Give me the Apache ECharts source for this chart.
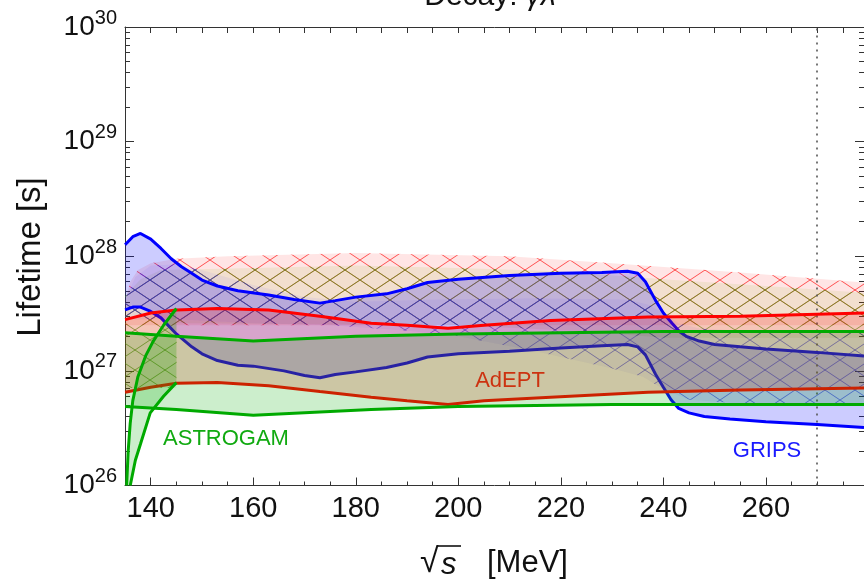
<!DOCTYPE html>
<html>
<head>
<meta charset="utf-8">
<script src="https://cdn.jsdelivr.net/npm/echarts@6/dist/echarts.min.js"></script>
<style>
  html, body { margin: 0; padding: 0; background: #fff; }
  #chart { width: 864px; height: 581px; }
</style>
</head>
<body>
<div id="chart"></div>
<script>
// x: sqrt(s) in MeV, y: lifetime in s (log axis)
const xMajorTicks = [140, 160, 180, 200, 220, 240, 260];
const xMinorTicks = [140, 145, 150, 155, 160, 165, 170, 175, 180, 185, 190, 195, 200, 205,
  210, 215, 220, 225, 230, 235, 240, 245, 250, 255, 260, 265, 270, 275];
const thresholdE = 270;

// GRIPS solid band
const gripsUpper = [[135,1.26e28],[136.5,1.48e28],[138,1.58e28],[140,1.41e28],[142,1.17e28],[144,9.5e27],
  [146,8.1e27],[148,7.1e27],[150,6.2e27],[153,5.5e27],[157,5.0e27],[163,4.6e27],[168,4.2e27],[173,3.9e27],
  [176,4.1e27],[180,4.4e27],[186,4.7e27],[190,5.2e27],[194,5.9e27],[200,6.3e27],[210,6.8e27],[220,7.1e27],
  [228,7.2e27],[233,7.4e27],[235,7.1e27],[236.5,6.0e27],[238.5,4.1e27],[240,3.2e27],[241.7,2.6e27],
  [243,2.24e27],[244.5,2.0e27],[247,1.82e27],[250,1.7e27],[255,1.62e27],[260,1.55e27],[270,1.45e27],[279.14,1.35e27]];
const gripsLower = [[135,3.4e27],[136.5,3.6e27],[138,3.6e27],[140,3.3e27],[142,2.9e27],[145,2.1e27],
  [148,1.62e27],[150,1.41e27],[153,1.23e27],[157,1.12e27],[160,1.10e27],[166,1.0e27],[170,9.1e26],
  [173,8.7e26],[176,9.3e26],[180,9.8e26],[186,1.07e27],[190,1.17e27],[194,1.32e27],[200,1.41e27],
  [210,1.48e27],[220,1.58e27],[228,1.66e27],[233,1.70e27],[235,1.62e27],[236.5,1.38e27],[238.5,9.3e26],
  [240,7.2e26],[241.5,5.6e26],[243,4.7e26],[245,4.3e26],[248,4.0e26],[253,3.8e26],[260,3.6e26],
  [270,3.4e26],[279.14,3.2e26]];

// AdEPT solid band
const adeptUpper = [[135,2.8e27],[140,3.2e27],[145,3.4e27],[153,3.5e27],[163,3.4e27],[173,3.0e27],
  [183,2.6e27],[190,2.5e27],[198,2.35e27],[205,2.5e27],[218,2.75e27],[237,2.95e27],[255,3.0e27],[279.14,3.2e27]];
const adeptLower = [[135,6.5e26],[140,7.2e26],[145,7.8e26],[153,7.9e26],[163,7.4e26],[173,6.6e26],
  [183,5.9e26],[190,5.5e26],[198,5.1e26],[205,5.5e26],[218,5.9e26],[237,6.5e26],[255,6.8e26],[279.14,7.1e26]];

// ASTROGAM solid band + threshold curves
const astroUpper = [[135,2.15e27],[145,2.0e27],[160,1.82e27],[180,2.0e27],[200,2.1e27],[240,2.2e27],[279.14,2.2e27]];
const astroLower = [[135,4.9e26],[145,4.6e26],[160,4.1e26],[183,4.6e26],[200,4.9e26],[230,5.1e26],[279.14,5.1e26]];
const astroRiseHigh = [[135.3,1.0e26],[135.6,2.0e26],[136,3.5e26],[136.5,5.5e26],[137.5,8.9e26],
  [139,1.35e27],[140.5,1.82e27],[142.5,2.5e27],[145,3.5e27]];
const astroRiseLow = [[136,1.0e26],[137,1.66e26],[138,2.3e26],[139.9,4.3e26],[142.5,6.0e26],[145,7.9e26]];

// hatched bands
const adeptHatchTop = [[135,4.0e27],[136,6.0e27],[137.5,7.6e27],[140,8.7e27],[145,9.5e27],[155,1.0e28],
  [180,1.07e28],[210,1.0e28],[230,8.7e27],[255,7.2e27],[279.14,5.9e27]];
const adeptHatchBottom = [[135,2.5e27],[279.14,2.5e27]];
const astroHatchTop = [[135,4.5e27],[138,6.3e27],[142,7.6e27],[160,7.9e27],[180,8.3e27],[200,7.9e27],
  [220,7.4e27],[240,6.3e27],[260,5.5e27],[279.14,4.8e27]];
const astroHatchBottom = [[135,7.1e26],[145,7.1e26],[145.1,2.6e27],[200,2.5e27],[225,2.2e27],
  [240,1.95e27],[279.14,1.95e27]];
const gripsHatchTop = [[135,4.2e27],[137,6.6e27],[140,8.3e27],[145,8.5e27],[150,7.6e27],[160,5.6e27],
  [170,4.4e27],[180,4.0e27],[195,4.2e27],[215,4.3e27],[233,4.2e27],[237,3.8e27],[240,3.2e27],
  [243,2.6e27],[247,2.34e27],[255,2.24e27],[279.14,2.14e27]];
const gripsHatchBottom = [[135,2.8e27],[145,2.8e27],[160,2.6e27],[175,2.5e27],[190,2.24e27],[200,2.0e27],
  [215,1.48e27],[230,1.05e27],[236,8.9e26],[240,6.9e26],[245,5.6e26],[255,5.2e26],[279.14,5.1e26]];

const X_MIN = 134.98, X_MAX = 279.14;
const FONT = '"Liberation Sans", Arial, sans-serif';

// minor log ticks (2..9 x 10^n), in exponent units for the overlay axes
const yMinorExp = [];
for (let n = 26; n < 30; n++) {
  for (let k = 2; k <= 9; k++) yMinorExp.push(n + Math.log10(k));
}

// cross hatch tile, same origin for all bands so the crosses line up
function hatch(color) {
  const c = document.createElement('canvas');
  c.width = 30; c.height = 20;
  const g = c.getContext('2d');
  g.strokeStyle = color;
  g.lineWidth = 1;
  g.beginPath();
  for (let k = -1; k <= 1; k++) {
    g.moveTo(k * 30, 0); g.lineTo(k * 30 + 30, 20);
    g.moveTo(k * 30, 20); g.lineTo(k * 30 + 30, 0);
  }
  g.stroke();
  return { image: c, repeat: 'repeat' };
}

function band(name, upper, lower, fill, hatchColor, z) {
  const pattern = hatchColor ? hatch(hatchColor) : null;
  return {
    type: 'custom', name: name, z: z, clip: true, silent: true,
    xAxisIndex: 0, yAxisIndex: 0,
    data: [upper[0]],
    encode: { x: 0, y: 1 },
    renderItem: function (params, api) {
      const pts = upper.map(p => api.coord(p))
        .concat(lower.slice().reverse().map(p => api.coord(p)));
      const children = [{ type: 'polygon', shape: { points: pts }, style: { fill: fill } }];
      if (pattern) children.push({ type: 'polygon', shape: { points: pts }, style: { fill: pattern } });
      return { type: 'group', children: children };
    }
  };
}

function curve(name, data, color, z) {
  return {
    type: 'line', name: name, data: data, z: z, silent: true,
    xAxisIndex: 0, yAxisIndex: 0,
    showSymbol: false, symbol: 'none',
    lineStyle: { color: color, width: 3 }
  };
}

const axisLineStyle = { color: '#333', width: 1 };

const chart = echarts.init(document.getElementById('chart'));

const option = {
  animation: false,
  grid: { left: 125, top: 27, width: 741, height: 458.5 },
  xAxis: [
    {
      type: 'value', min: X_MIN, max: X_MAX, position: 'bottom',
      axisLine: { lineStyle: axisLineStyle },
      axisTick: { inside: true, length: 8, customValues: xMajorTicks, lineStyle: axisLineStyle },
      axisLabel: { customValues: xMajorTicks, fontSize: 29, fontFamily: FONT, color: '#111', margin: 9 },
      splitLine: { show: false }
    },
    {
      type: 'value', min: X_MIN, max: X_MAX, position: 'bottom',
      axisLine: { show: false },
      axisTick: { inside: true, length: 4, customValues: xMinorTicks, lineStyle: axisLineStyle },
      axisLabel: { show: false }, splitLine: { show: false }
    },
    {
      type: 'value', min: X_MIN, max: X_MAX, position: 'top',
      axisLine: { lineStyle: axisLineStyle },
      axisTick: { inside: true, length: 6, customValues: xMinorTicks, lineStyle: axisLineStyle },
      axisLabel: { show: false }, splitLine: { show: false }
    }
  ],
  yAxis: [
    {
      type: 'log', logBase: 10, min: 1e26, max: 1e30, position: 'left',
      axisLine: { lineStyle: axisLineStyle },
      axisTick: { inside: true, length: 9, lineStyle: axisLineStyle },
      axisLabel: {
        margin: 8,
        formatter: v => '{b|10}{s|' + Math.round(Math.log10(v)) + '}',
        rich: {
          b: { fontSize: 28, fontFamily: FONT, color: '#111', lineHeight: 38 },
          s: { fontSize: 20, fontFamily: FONT, color: '#111', lineHeight: 18, verticalAlign: 'top' }
        }
      },
      splitLine: { show: false }
    },
    {
      type: 'value', min: 26, max: 30, position: 'left',
      axisLine: { show: false },
      axisTick: { inside: true, length: 5, customValues: yMinorExp, lineStyle: axisLineStyle },
      axisLabel: { show: false }, splitLine: { show: false }
    },
    {
      type: 'log', logBase: 10, min: 1e26, max: 1e30, position: 'right',
      axisLine: { lineStyle: axisLineStyle },
      axisTick: { inside: true, length: 9, lineStyle: axisLineStyle },
      axisLabel: { show: false }, splitLine: { show: false }
    },
    {
      type: 'value', min: 26, max: 30, position: 'right',
      axisLine: { show: false },
      axisTick: { inside: true, length: 5, customValues: yMinorExp, lineStyle: axisLineStyle },
      axisLabel: { show: false }, splitLine: { show: false }
    }
  ],
  series: [
    band('AdEPT hatched', adeptHatchTop, adeptHatchBottom, 'rgba(255,0,0,0.1)', 'rgba(255,30,30,0.75)', 1),
    band('ASTROGAM hatched', astroHatchTop, astroHatchBottom, 'rgba(130,170,0,0.1)', 'rgba(70,150,20,0.7)', 2),
    band('GRIPS hatched', gripsHatchTop, gripsHatchBottom, 'rgba(0,0,255,0.05)', 'rgba(40,40,230,0.6)', 3),
    band('GRIPS', gripsUpper, gripsLower, 'rgba(0,0,255,0.2)', null, 4),
    curve('GRIPS upper', gripsUpper, '#0000ff', 5),
    curve('GRIPS lower', gripsLower, '#0000ff', 5),
    band('AdEPT', adeptUpper, adeptLower, 'rgba(255,0,0,0.2)', null, 6),
    curve('AdEPT upper', adeptUpper, '#ff0000', 7),
    curve('AdEPT lower', adeptLower, '#ff0000', 7),
    band('ASTROGAM', astroUpper, astroLower, 'rgba(0,170,0,0.2)', null, 8),
    band('ASTROGAM threshold', astroRiseHigh, astroRiseLow, 'rgba(0,170,0,0.2)', null, 8),
    curve('ASTROGAM upper', astroUpper, '#00aa00', 9),
    curve('ASTROGAM lower', astroLower, '#00aa00', 9),
    curve('ASTROGAM rise 1', astroRiseHigh, '#00aa00', 9),
    Object.assign(curve('ASTROGAM rise 2', astroRiseLow, '#00aa00', 9), {
      markLine: {
        silent: true, symbol: ['none', 'none'], label: { show: false },
        lineStyle: { type: [2, 5], color: '#555', width: 1.6 },
        data: [{ xAxis: thresholdE }]
      }
    })
  ],
  graphic: [
    {
      type: 'text', x: 490, y: -3, silent: true,
      style: {
        text: '{n|Decay: }{g|γλ}', textAlign: 'center', textVerticalAlign: 'middle',
        rich: {
          n: { fontSize: 30, fontFamily: FONT, fill: '#111' },
          g: { fontSize: 30, fontFamily: FONT, fontStyle: 'italic', fill: '#111' }
        }
      }
    },
    {
      type: 'text', x: 31, y: 257, rotation: Math.PI / 2, silent: true,
      style: { text: 'Lifetime [s]', font: '33px ' + FONT, fill: '#111', textAlign: 'center', textVerticalAlign: 'middle' }
    },
    {
      type: 'text', x: 420, y: 563, silent: true,
      style: { text: '√', font: '34px ' + FONT, fill: '#111', textAlign: 'left', textVerticalAlign: 'middle' }
    },
    {
      type: 'text', x: 441, y: 565, silent: true,
      style: { text: 's', font: 'italic 31px ' + FONT, fill: '#111', textAlign: 'left', textVerticalAlign: 'middle' }
    },
    {
      type: 'line', silent: true,
      shape: { x1: 437, y1: 546, x2: 461, y2: 546 },
      style: { stroke: '#111', lineWidth: 1.6 }
    },
    {
      type: 'text', x: 487, y: 563, silent: true,
      style: { text: '[MeV]', font: '31px ' + FONT, fill: '#111', textAlign: 'left', textVerticalAlign: 'middle' }
    },
    {
      type: 'text', x: 226, y: 439, silent: true,
      style: { text: 'ASTROGAM', font: '22px ' + FONT, fill: '#11aa11', textAlign: 'center', textVerticalAlign: 'middle' }
    },
    {
      type: 'text', x: 510, y: 381, silent: true,
      style: { text: 'AdEPT', font: '22px ' + FONT, fill: '#ff1a1a', textAlign: 'center', textVerticalAlign: 'middle' }
    },
    {
      type: 'text', x: 767, y: 451, silent: true,
      style: { text: 'GRIPS', font: '22px ' + FONT, fill: '#1a1aff', textAlign: 'center', textVerticalAlign: 'middle' }
    }
  ]
};

chart.setOption(option);
</script>
</body>
</html>
